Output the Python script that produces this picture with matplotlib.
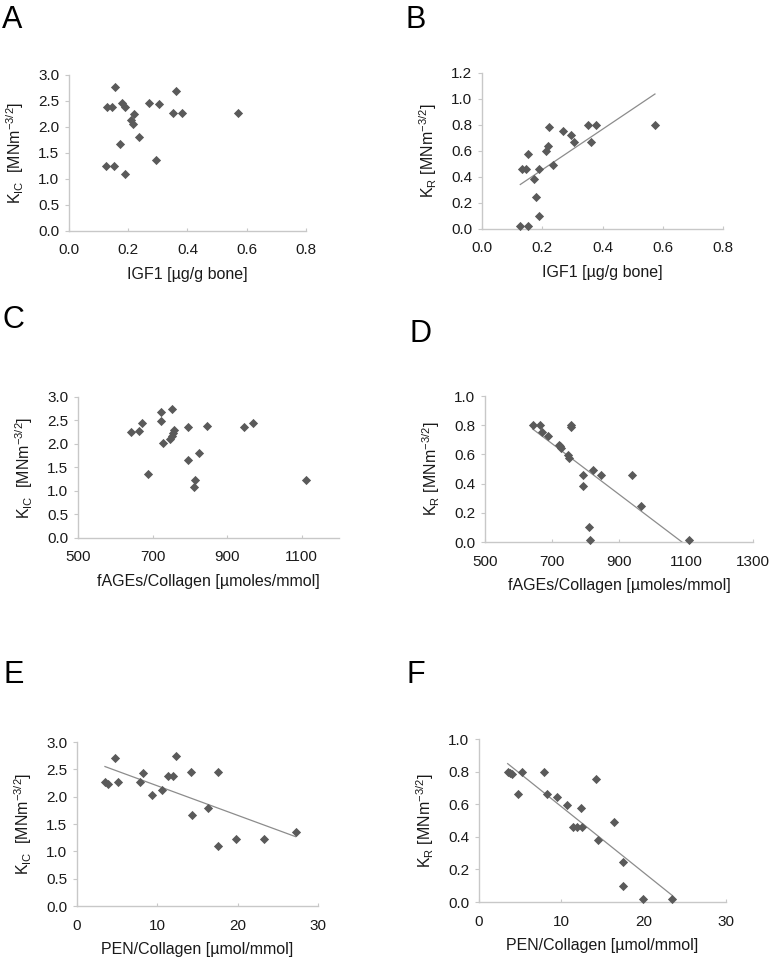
"""Six scatter panels: fracture toughness vs. bone matrix measures."""

import matplotlib.pyplot as plt
import numpy as np

plt.rcParams["font.family"] = ["Liberation Sans", "DejaVu Sans"]

# Panel A / B: IGF1
igf1_a = [0.155, 0.127, 0.146, 0.179, 0.188, 0.220, 0.210, 0.217, 0.237, 0.171,
          0.126, 0.151, 0.188, 0.269, 0.305, 0.294, 0.362, 0.352, 0.380, 0.572]
kic_a = [2.76, 2.39, 2.39, 2.47, 2.39, 2.24, 2.13, 2.05, 1.81, 1.67,
         1.24, 1.24, 1.10, 2.47, 2.45, 1.37, 2.70, 2.26, 2.26, 2.26]

igf1_b = [0.127, 0.151, 0.132, 0.147, 0.154, 0.171, 0.179, 0.188, 0.188, 0.213,
          0.218, 0.221, 0.236, 0.269, 0.294, 0.306, 0.353, 0.362, 0.380, 0.574]
kr_b = [0.023, 0.023, 0.459, 0.459, 0.577, 0.382, 0.246, 0.459, 0.10, 0.597,
        0.638, 0.785, 0.495, 0.754, 0.726, 0.667, 0.80, 0.667, 0.80, 0.80]

# Panel C / D: fAGEs/Collagen
fages_c = [643, 664, 672, 688, 723, 723, 728, 751, 748, 753, 757,
           756, 795, 795, 815, 812, 824, 845, 945, 970, 1112]
kic_c = [2.26, 2.27, 2.45, 1.36, 2.69, 2.48, 2.03, 2.74, 2.11, 2.18, 2.29,
         2.23, 2.36, 1.66, 1.24, 1.09, 1.80, 2.39, 2.36, 2.45, 1.23]

fages_d = [642, 664, 670, 687, 722, 725, 728, 749, 751, 758, 758,
           794, 794, 823, 846, 809, 813, 940, 966, 1109]
kr_d = [0.805, 0.805, 0.752, 0.725, 0.668, 0.657, 0.643, 0.593, 0.577, 0.805, 0.786,
        0.459, 0.382, 0.493, 0.459, 0.10, 0.016, 0.459, 0.248, 0.016]

# Panel E / F: PEN/Collagen
pen_e = [3.48, 3.89, 4.68, 5.13, 7.82, 8.23, 9.39, 10.59, 11.34, 11.96,
         12.29, 14.15, 14.32, 16.26, 17.5, 17.5, 19.82, 23.33, 27.22]
kic_e = [2.26, 2.24, 2.70, 2.26, 2.26, 2.44, 2.04, 2.13, 2.38, 2.38,
         2.75, 2.46, 1.66, 1.80, 2.46, 1.10, 1.23, 1.23, 1.36]

pen_f = [3.49, 3.73, 4.01, 4.74, 5.23, 7.94, 8.31, 9.53, 10.66, 11.43,
         11.96, 12.57, 12.40, 14.23, 14.43, 16.38, 17.55, 17.55, 19.94, 23.47]
kr_f = [0.80, 0.793, 0.784, 0.665, 0.80, 0.80, 0.665, 0.645, 0.595, 0.46,
        0.46, 0.46, 0.575, 0.754, 0.382, 0.493, 0.244, 0.099, 0.02, 0.02]

KIC_LABEL = r"K$_{\mathregular{IC}}$  [MNm$^{\mathregular{-3/2}}$]"
KR_LABEL = r"K$_{\mathregular{R}}$ [MNm$^{\mathregular{-3/2}}$]"

MARKER_COLOR = "#5a5a5a"
AXIS_COLOR = "#c8c8c8"
TEXT_COLOR = "#1a1a1a"

panels = [
    # letter, rect, x, y, xlim, xticks, fmt, ylim, yticks, xlabel, ylabel, trend, letter pos
    ("A", [0.0896, 0.7594, 0.3078, 0.1625], igf1_a, kic_a, (0, 0.8),
     [0, 0.2, 0.4, 0.6, 0.8], "{:.1f}", (0, 3.0), np.arange(0, 3.01, 0.5),
     "IGF1 [µg/g bone]", KIC_LABEL, False, (0.003, 0.995)),
    ("B", [0.626, 0.7615, 0.313, 0.1625], igf1_b, kr_b, (0, 0.8),
     [0, 0.2, 0.4, 0.6, 0.8], "{:.1f}", (0, 1.2), np.arange(0, 1.21, 0.2),
     "IGF1 [µg/g bone]", KR_LABEL, True, (0.526, 0.995)),
    ("C", [0.1013, 0.4396, 0.339, 0.1469], fages_c, kic_c, (500, 1200),
     [500, 700, 900, 1100], "{:.0f}", (0, 3.0), np.arange(0, 3.01, 0.5),
     "fAGEs/Collagen [µmoles/mmol]", KIC_LABEL, False, (0.003, 0.682)),
    ("D", [0.6299, 0.4354, 0.348, 0.152], fages_d, kr_d, (500, 1300),
     [500, 700, 900, 1100, 1300], "{:.0f}", (0, 1.0), np.arange(0, 1.01, 0.2),
     "fAGEs/Collagen [µmoles/mmol]", KR_LABEL, True, (0.532, 0.668)),
    ("E", [0.100, 0.05625, 0.313, 0.1708], pen_e, kic_e, (0, 30),
     [0, 10, 20, 30], "{:.0f}", (0, 3.0), np.arange(0, 3.01, 0.5),
     "PEN/Collagen [µmol/mmol]", KIC_LABEL, True, (0.004, 0.312)),
    ("F", [0.622, 0.0604, 0.3208, 0.1698], pen_f, kr_f, (0, 30),
     [0, 10, 20, 30], "{:.0f}", (0, 1.0), np.arange(0, 1.01, 0.2),
     "PEN/Collagen [µmol/mmol]", KR_LABEL, True, (0.528, 0.312)),
]

fig = plt.figure(figsize=(7.7, 9.6), dpi=100)

for (letter, rect, xs, ys, xlim, xticks, xfmt, ylim, yticks,
     xlabel, ylabel, trend, letter_pos) in panels:
    ax = fig.add_axes(rect)
    ax.scatter(xs, ys, marker="D", s=22, color=MARKER_COLOR, linewidths=0,
               zorder=3, clip_on=False)
    if trend:
        # linear trendline across the data range, as Excel draws it
        slope, icpt = np.polyfit(xs, ys, 1)
        tx = np.array([min(xs), max(xs)])
        ax.plot(tx, slope * tx + icpt, color="#8c8c8c", lw=0.9, zorder=2)
    ax.set_xlim(*xlim)
    ax.set_ylim(*ylim)
    ax.set_xticks(xticks)
    ax.set_xticklabels([xfmt.format(v) for v in xticks])
    ax.set_yticks(yticks)
    ax.set_yticklabels(["{:.1f}".format(v) for v in yticks])
    for side in ("top", "right"):
        ax.spines[side].set_visible(False)
    for side in ("left", "bottom"):
        ax.spines[side].set_color(AXIS_COLOR)
        ax.spines[side].set_linewidth(1.0)
    ax.tick_params(axis="y", direction="out", length=3, color=AXIS_COLOR,
                   labelsize=11, labelcolor=TEXT_COLOR, pad=4)
    ax.tick_params(axis="x", direction="in", length=2, color=AXIS_COLOR,
                   labelsize=11, labelcolor=TEXT_COLOR, pad=9)
    ax.set_xlabel(xlabel, fontsize=11.5, color=TEXT_COLOR, labelpad=7)
    ax.set_ylabel(ylabel, fontsize=11.5, color=TEXT_COLOR, labelpad=9)
    fig.text(letter_pos[0], letter_pos[1], letter, fontsize=22,
             ha="left", va="top", color="black")

fig.savefig("out.png", dpi=100)
